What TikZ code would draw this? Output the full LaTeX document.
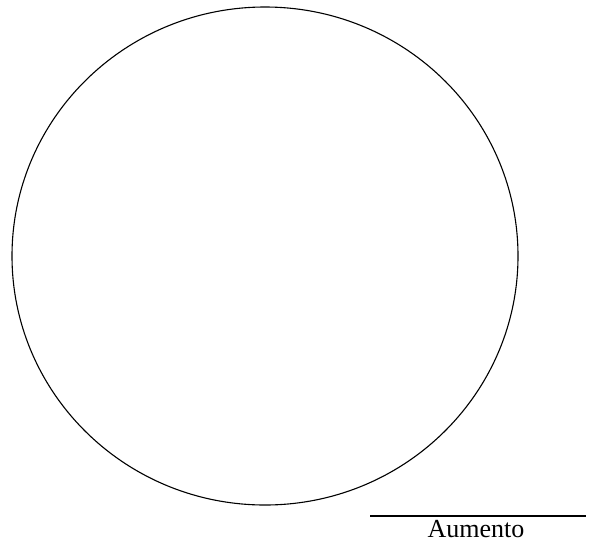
\documentclass[tikz,border=0pt]{standalone}
\usepackage{fontspec}
\setmainfont{Liberation Serif}
\begin{document}
\begin{tikzpicture}[x=1pt,y=-1pt,
  outline/.style={draw=black,line width=1.1pt},
  label/.style={font=\fontsize{26}{29}\selectfont,inner sep=0pt}]
\useasboundingbox (0,0) rectangle (594,542);
\draw[outline] (265,256) ellipse [x radius=253, y radius=249];
\coordinate (l1) at (370,516);
\coordinate (l2) at (586,516);
\draw[outline] (l1) -- (l2);
\node[label,anchor=base] (t) at (476,537) {Aumento};
\end{tikzpicture}
\end{document}
